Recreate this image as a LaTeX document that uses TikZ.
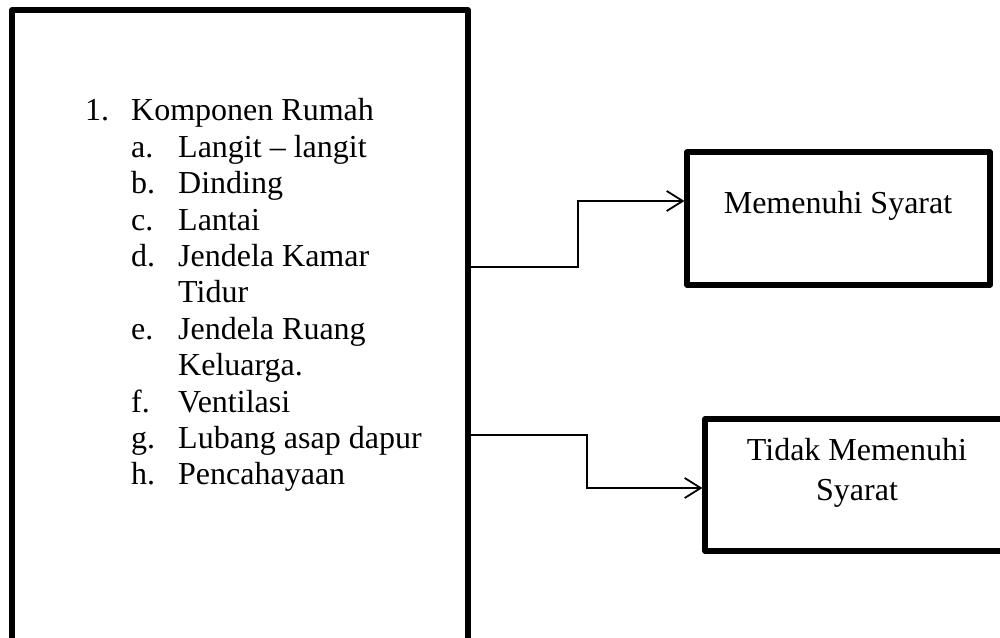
\documentclass[tikz,border=0pt]{standalone}
\usepackage{fontspec}
\setmainfont{Liberation Serif}
\usetikzlibrary{arrows.meta}
\begin{document}
\begin{tikzpicture}[x=1pt,y=-1pt,
  box/.style={draw, line width=5.2pt, line join=round, inner sep=0pt},
  txt/.style={anchor=base west, inner sep=0pt, font=\fontsize{32}{36}\selectfont},
  ctxt/.style={anchor=base, inner sep=0pt, font=\fontsize{32}{36}\selectfont},
  arr/.style={line width=1.8pt, -{Straight Barb[length=16pt, width=20pt, line width=1.8pt]}}
]
\clip (0,0) rectangle (1000,637);
\fill[white] (0,0) rectangle (1000,637);
% boxes
\node[box, minimum width=456pt, minimum height=650pt] (L) at (240,335) {};
\node[box, minimum width=303pt, minimum height=133pt] (m1) at (838.5,218.5) {};
\node[box, minimum width=304pt, minimum height=132pt] (m2) at (857,485) {};
% list text
\node[txt] (n1) at (85,120) {1.};
\node[txt] (t1) at (131,120) {Komponen Rumah};
\node[txt] (la) at (131,157) {a.};
\node[txt] (ta) at (178,157) {Langit – langit};
\node[txt] (lb) at (131,193) {b.};
\node[txt] (tb) at (178,193) {Dinding};
\node[txt] (lc) at (131,230) {c.};
\node[txt] (tc) at (178,230) {Lantai};
\node[txt] (ld) at (131,266) {d.};
\node[txt] (td) at (178,266) {Jendela Kamar};
\node[txt] (td2) at (178,302) {Tidur};
\node[txt] (le) at (131,339) {e.};
\node[txt] (te) at (178,339) {Jendela Ruang};
\node[txt] (te2) at (178,375) {Keluarga.};
\node[txt] (lf) at (131,412) {f.};
\node[txt] (tf) at (178,412) {Ventilasi};
\node[txt] (lg) at (131,448) {g.};
\node[txt] (tg) at (178,448) {Lubang asap dapur};
\node[txt] (lh) at (131,484) {h.};
\node[txt] (th) at (178,484) {Pencahayaan};
% right texts
\node[ctxt] (r1) at (838,213) {Memenuhi Syarat};
\node[ctxt] (r2a) at (857,460) {Tidak Memenuhi};
\node[ctxt] (r2b) at (857,500) {Syarat};
% connectors
\path (L.east) ++(0,-68) coordinate (s1);
\path (L.east) ++(0,100) coordinate (s2);
\draw[arr] (s1) -- ++(107,0) |- ([yshift=17.5pt]m1.west);
\draw[arr] (s2) -- ++(116,0) |- ([yshift=-3pt]m2.west);
\end{tikzpicture}
\end{document}
